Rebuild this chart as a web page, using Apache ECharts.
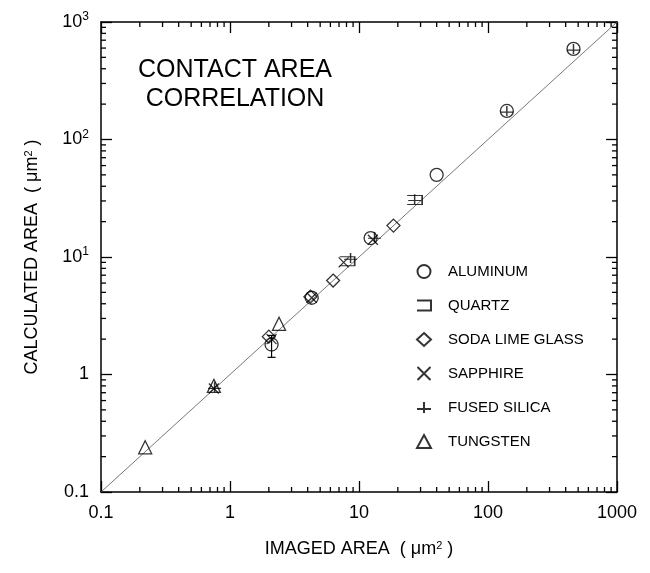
<!DOCTYPE html>
<html><head><meta charset="utf-8">
<script src="https://cdn.jsdelivr.net/npm/echarts@6/dist/echarts.min.js"></script>
<style>html,body{margin:0;padding:0;background:#fff}#c{width:650px;height:573px}</style>
</head><body><div id="c"></div>
<script>
// ---- data (imaged area, calculated area) in µm² ----
const aluminum = [[2.1, 1.8], [4.3, 4.5], [12.3, 14.5], [40, 50], [140, 175], [460, 590]];
const quartz = [[8.1, 9.2], [27, 30.5]];
const sodaLimeGlass = [[2.0, 2.1], [4.2, 4.6], [6.3, 6.3], [18.5, 18.5]];
const sapphire = [[0.75, 0.76], [2.1, 2.0], [7.6, 9.0], [12.8, 14.0], [4.3, 4.5]];
const fusedSilica = [[0.76, 0.78], [8.6, 9.8], [13.2, 14.8], [27, 31], [140, 175], [460, 590]];
const tungsten = [[0.22, 0.24], [0.75, 0.8], [2.4, 2.7]];
const errorBars = [[2.1, 1.4, 2.15]];            // x, low, high
const identityLine = [[0.1, 0.1], [1000, 1000]];

const seriesNames = ['ALUMINUM', 'QUARTZ', 'SODA LIME GLASS', 'SAPPHIRE', 'FUSED SILICA', 'TUNGSTEN'];
const xTickLabels = ['0.1', '1', '10', '100', '1000'];
const yTickLabels = [['0.1', ''], ['1', ''], ['10', '1'], ['10', '2'], ['10', '3']];
const minorTicks = [0.2, 0.3, 0.4, 0.5, 0.6, 0.7, 0.8, 0.9,
  2, 3, 4, 5, 6, 7, 8, 9,
  20, 30, 40, 50, 60, 70, 80, 90,
  200, 300, 400, 500, 600, 700, 800, 900];
const axisMin = 0.1, axisMax = 1000;

(function () {
const FONT = '"Liberation Sans", Arial, Helvetica, sans-serif';
const chart = echarts.init(document.getElementById('c'), null, {renderer: 'canvas'});

const expIdx = v => Math.round(Math.log10(v)) + 1;
const symStyle = {color: 'transparent', borderColor: '#000', borderWidth: 1.3};

function scatter(name, data, symbol, size) {
  return {
    name, type: 'scatter', data, symbol, symbolSize: size,
    itemStyle: symStyle, z: 5
  };
}

const axisCommon = {
  type: 'log', logBase: 10, min: axisMin, max: axisMax,
  axisLine: {show: true, lineStyle: {color: '#000', width: 1.5}},
  axisTick: {show: true, inside: true, length: 11, lineStyle: {color: '#000', width: 1.3}},
  splitLine: {show: false}, minorTick: {show: false}
};

const titleGraphics = [
  {type: 'text', id: 'title1', x: 235, y: 58, style: {text: 'CONTACT AREA', fontFamily: FONT, fontSize: 25, fill: '#000', textAlign: 'center'}},
  {type: 'text', id: 'title2', x: 235, y: 87, style: {text: 'CORRELATION', fontFamily: FONT, fontSize: 25, fill: '#000', textAlign: 'center'}}
];

const option = {
  backgroundColor: '#fff',
  animation: false,
  grid: {left: 101, right: 33, top: 22, bottom: 81, containLabel: false},
  xAxis: [
    Object.assign({}, axisCommon, {
      position: 'bottom',
      name: '{a|IMAGED AREA  ( μm}{s|2}{a| )}',
      nameLocation: 'middle', nameGap: 48,
      nameTextStyle: {rich: {
        a: {fontFamily: FONT, fontSize: 18, color: '#000'},
        s: {fontFamily: FONT, fontSize: 11, color: '#000', verticalAlign: 'top'}
      }},
      axisLabel: {
        margin: 12, fontFamily: FONT, fontSize: 18, color: '#000',
        formatter: v => xTickLabels[expIdx(v)]
      }
    }),
    Object.assign({}, axisCommon, {position: 'top', axisLabel: {show: false}})
  ],
  yAxis: [
    Object.assign({}, axisCommon, {
      position: 'left',
      name: '{a|CALCULATED AREA  ( μm}{s|2}{a| )}',
      nameLocation: 'middle', nameGap: 60,
      nameTextStyle: {rich: {
        a: {fontFamily: FONT, fontSize: 18, color: '#000'},
        s: {fontFamily: FONT, fontSize: 11, color: '#000', verticalAlign: 'top'}
      }},
      axisLabel: {
        margin: 12, color: '#000',
        formatter: v => {
          const t = yTickLabels[expIdx(v)];
          return t[1] ? `{n|${t[0]}}{s|${t[1]}}` : `{n|${t[0]}}`;
        },
        rich: {
          n: {fontFamily: FONT, fontSize: 18, color: '#000', lineHeight: 22},
          s: {fontFamily: FONT, fontSize: 12, color: '#000', verticalAlign: 'top', lineHeight: 12}
        }
      }
    }),
    Object.assign({}, axisCommon, {position: 'right', axisLabel: {show: false}})
  ],
  legend: {
    data: seriesNames,
    orient: 'vertical', left: 411, top: 259,
    itemWidth: 14, itemHeight: 13, itemGap: 19,
    textStyle: {fontFamily: FONT, fontSize: 15, color: '#000', padding: [0, 0, 0, 12]},
    selectedMode: false
  },
  series: [
    {type: 'line', data: identityLine, symbol: 'none', silent: true,
     lineStyle: {color: '#555', width: 0.8}, z: 2},
    {type: 'custom', silent: true, z: 4, data: errorBars,
     encode: {x: 0, y: [1, 2]},
     renderItem: (params, api) => {
       const lo = api.coord([api.value(0), api.value(1)]);
       const hi = api.coord([api.value(0), api.value(2)]);
       const seg = (x1, y1, x2, y2) => ({type: 'line', shape: {x1, y1, x2, y2}, style: {stroke: '#000', lineWidth: 1.2}});
       return {type: 'group', children: [
         seg(lo[0], lo[1], hi[0], hi[1]),
         seg(lo[0] - 4, lo[1], lo[0] + 4, lo[1]),
         seg(hi[0] - 4, hi[1], hi[0] + 4, hi[1])
       ]};
     }},
    scatter('ALUMINUM', aluminum, 'circle', 13),
    scatter('QUARTZ', quartz, 'path://M0,0L10,0L10,7L0,7', [15, 9]),
    scatter('SODA LIME GLASS', sodaLimeGlass, 'diamond', 13),
    scatter('SAPPHIRE', sapphire, 'path://M0,0L10,10M10,0L0,10', 10),
    scatter('FUSED SILICA', fusedSilica, 'path://M0,7L10,7M5,2L5,10', [13, 10]),
    scatter('TUNGSTEN', tungsten, 'triangle', 13)
  ]
};
chart.setOption(option);

// minor ticks on all four sides, positioned through the series' own coordinate system
const toPx = pt => chart.convertToPixel({seriesIndex: 0}, pt);
const tickLines = [];
try {
  const lb = toPx([axisMin, axisMin]);
  const rt = toPx([axisMax, axisMax]);
  const L = 5;
  let n = 0;
  const tick = (x1, y1, x2, y2) => ({type: 'line', id: 'mt' + (n++), z: 100, shape: {x1, y1, x2, y2}, style: {stroke: '#000', lineWidth: 1.3}});
  minorTicks.forEach(v => {
    const p = toPx([v, v]);
    tickLines.push(tick(p[0], lb[1], p[0], lb[1] - L), tick(p[0], rt[1], p[0], rt[1] + L),
                   tick(lb[0], p[1], lb[0] + L, p[1]), tick(rt[0], p[1], rt[0] - L, p[1]));
  });
} catch (e) { /* keep chart without minor ticks */ }
chart.setOption({graphic: titleGraphics.concat(tickLines)});
})();
</script>
</body></html>
